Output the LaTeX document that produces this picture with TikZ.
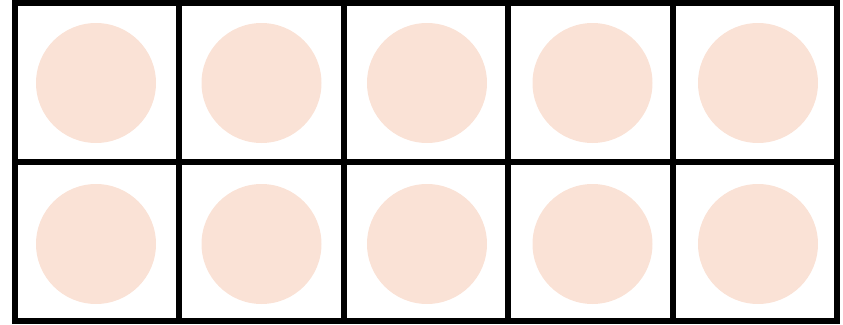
\documentclass[tikz,border=0pt]{standalone}
\usepackage{tikz}
\usetikzlibrary{positioning}
\definecolor{counterfill}{RGB}{250,226,214}

\begin{document}
\begin{tikzpicture}[x=0.02cm,y=-0.02cm]
\useasboundingbox (0,0) rectangle (843,325);
\foreach \r/\cy/\dy in {1/82.5/83,2/241.5/244}{
  \foreach \c in {1,...,5}{
    \node[draw,line width=6*0.02cm,minimum width=164.4*0.02cm,minimum height=159*0.02cm,inner sep=0pt] (cell-\r-\c) at ({15+164.4*(\c-0.5)},\cy) {};
    \node[circle,fill=counterfill,minimum size=120*0.02cm,inner sep=0pt] (dot-\r-\c) at ({96+165.5*(\c-1)},\dy) {};
  }
}
\end{tikzpicture}
\end{document}
